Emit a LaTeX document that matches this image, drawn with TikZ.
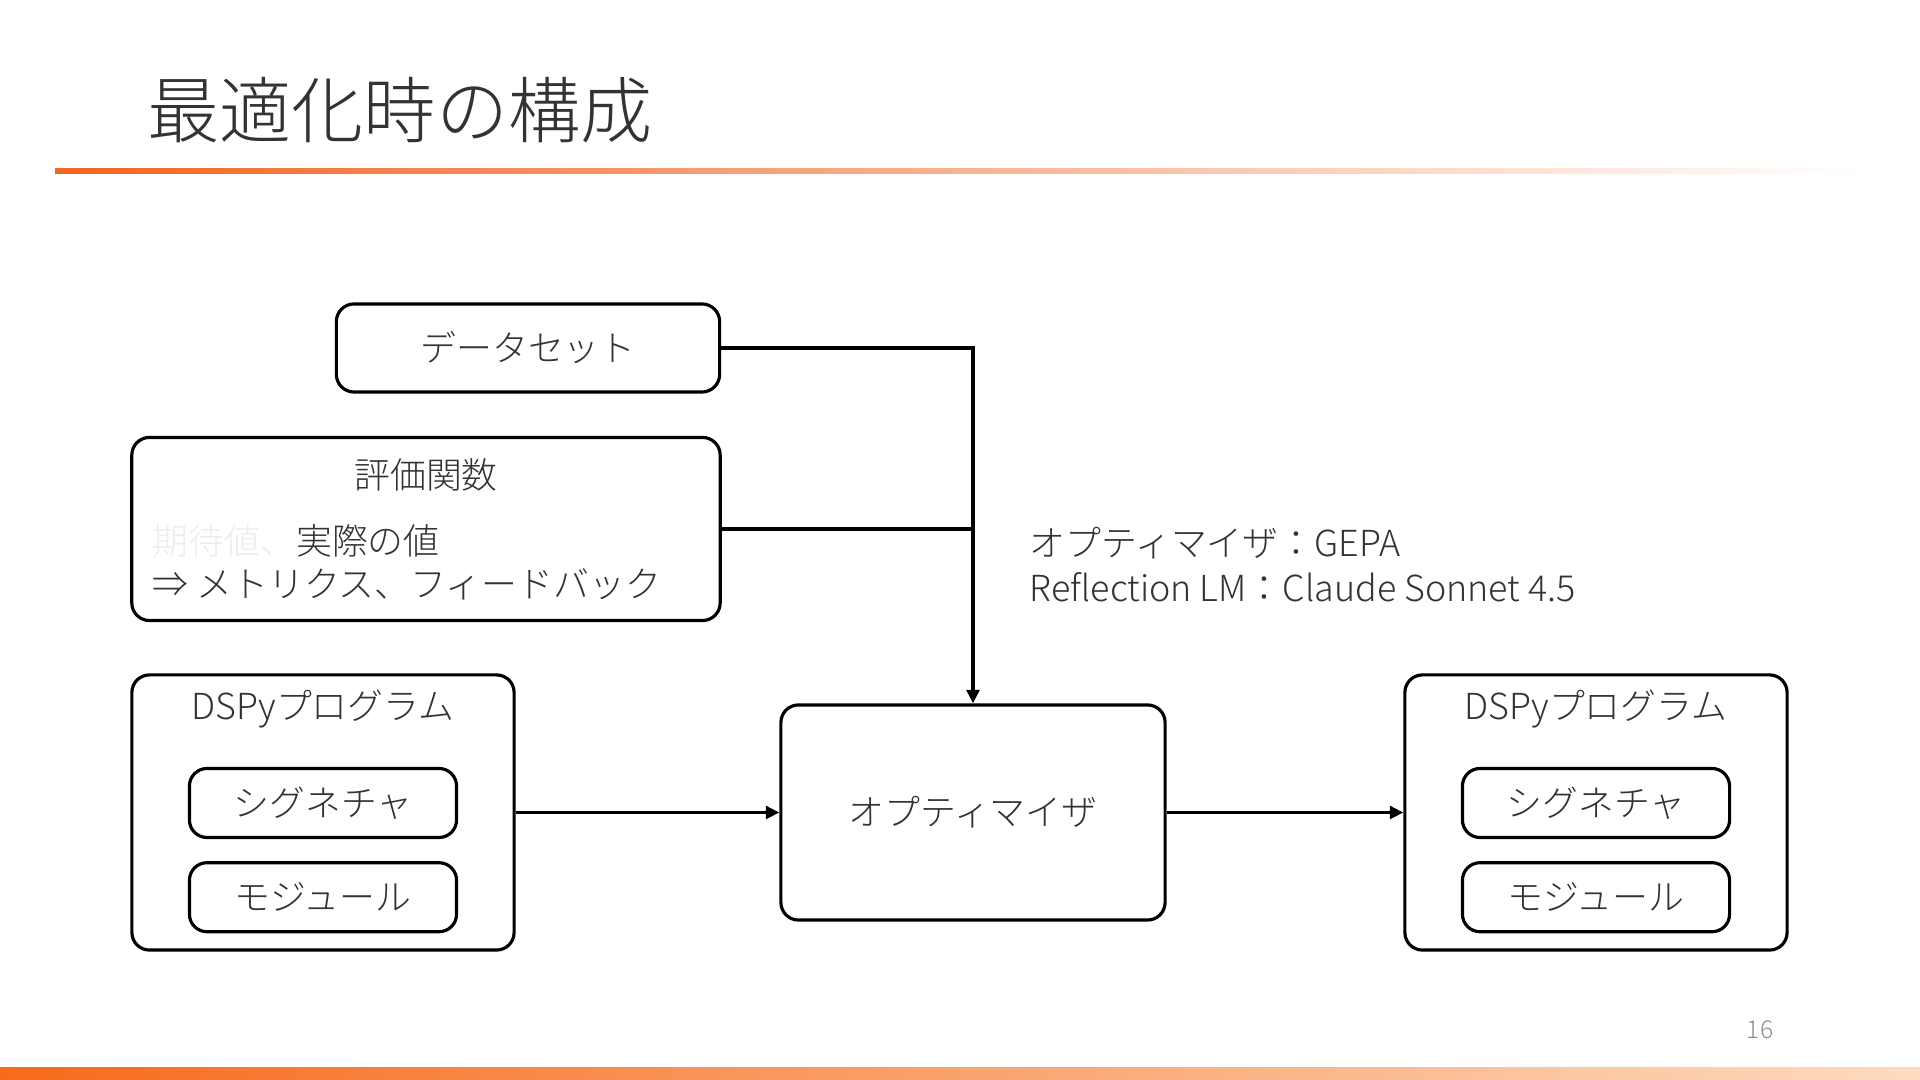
\documentclass[tikz,border=0pt]{standalone}
\usepackage{fontspec}
\IfFontExistsTF{Noto Sans CJK JP Light}
  {\setmainfont{Noto Sans CJK JP Light}}
  {\setmainfont{Noto Sans CJK JP}}
\usepackage{xcolor}
\usepackage{tikz}
\usetikzlibrary{positioning, arrows.meta, calc}

\definecolor{accent}{HTML}{F26522}
\definecolor{barleft}{HTML}{F76A1B}
\definecolor{barright}{HTML}{FDDBBF}
\definecolor{ink}{HTML}{333333}

\begin{document}
\begin{tikzpicture}[
  x=0.01cm, y=-0.01cm,
  box/.style={
    rectangle, draw=black, line width=0.9pt, rounded corners=5pt,
    align=center, font=\fontsize{10.2}{12}\selectfont, text=ink,
    fill=white, inner sep=4pt,
  },
  part/.style={box, minimum width=2.67cm, minimum height=0.69cm},
  group/.style={box, minimum width=3.82cm, minimum height=2.75cm},
  label/.style={font=\fontsize{10.2}{12.8}\selectfont, text=ink, inner sep=0pt},
  arrow/.style={-{Triangle[length=3.8pt, width=3.6pt]}, line width=0.9pt},
  link/.style={line width=0.9pt},
]
\useasboundingbox (0,0) rectangle (1920,1080);

% Slide title, rule and footer bar.
\node[anchor=west, font=\fontsize{20.5}{25}\selectfont, text=ink, inner sep=0pt]
  (title) at (147,110) {最適化時の構成};
\shade[left color=accent, right color=white] (55,169) rectangle (1861,174);
\shade[left color=barleft, right color=barright] (0,1068) rectangle (1920,1080);
\node[font=\fontsize{7}{8}\selectfont, text=black!45] (page) at (1760,1030) {16};

% Inputs on the left.
\node[box, minimum width=3.83cm, minimum height=0.88cm] (data) at (528,348) {データセット};
\node[box, minimum width=5.88cm, minimum height=1.83cm] (metric) at (426,529) {};
\node[label] (metrictitle) at (426,475) {評価関数};
\node[label, anchor=west] (metricio) at (152,541) {\textcolor{black!7}{期待値、}実際の値};
\node[label, anchor=west] (metricout) at (152,584) {⇒ メトリクス、フィードバック};

% Program before optimisation.
\node[group] (progin) at (323,812.5) {};
\node[label] (progintitle) at (323,709) {DSPyプログラム};
\node[part] (sigin) at (323,803) {シグネチャ};
\node[part, below=0.22cm of sigin] (modin) {モジュール};

% Optimiser.
\node[box, minimum width=3.84cm, minimum height=2.15cm] (opt) at (973,812.5) {オプティマイザ};
\node[label, anchor=west, align=left] (note) at (1029,565)
  {オプティマイザ：GEPA\\Reflection LM：Claude Sonnet 4.5};

% Program after optimisation.
\node[group] (progout) at (1596,812.5) {};
\node[label] (progouttitle) at (1596,709) {DSPyプログラム};
\node[part] (sigout) at (1596,803) {シグネチャ};
\node[part, below=0.22cm of sigout] (modout) {モジュール};

% Connectors.
\draw[arrow] (data.east) -| (opt.north);
\draw[link] (metric.east) -- (metric.east -| opt.north);
\draw[arrow] (progin.east) -- (opt.west);
\draw[arrow] (opt.east) -- (progout.west);

\end{tikzpicture}
\end{document}
